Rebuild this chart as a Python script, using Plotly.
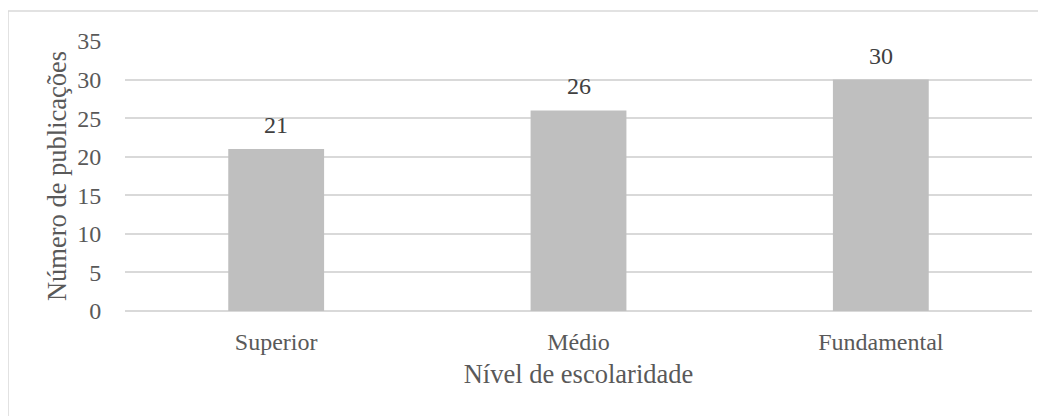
import plotly.graph_objects as go

categories = ["Superior", "Médio", "Fundamental"]
values = [21, 26, 30]
y_ticks = [0, 5, 10, 15, 20, 25, 30, 35]

# page is rendered with an 8px body offset; compensate in margins
OFF = 8
W, H = 1046, 416
L, R, T, B = 125 - OFF, 14 + OFF, 41 - OFF, 105 + OFF
pw, ph = W - L - R, H - T - B

FONT = "Liberation Serif"

fig = go.Figure()
fig.add_trace(go.Bar(
    x=categories, y=values,
    marker=dict(color="#BFBFBF", line=dict(width=0)),
    width=0.317,
    hoverinfo="skip",
))

for c, v in zip(categories, values):
    fig.add_annotation(x=c, y=v, text=str(v), showarrow=False,
                       yanchor="bottom", yshift=9,
                       font=dict(family=FONT, size=24, color="#404040"))

# outer chart border
fig.add_shape(type="rect", xref="paper", yref="paper",
              x0=(8 - OFF - L) / pw, x1=(W + 20 - L) / pw,
              y0=(H - B - (H + 20)) / ph, y1=(H - B - (11 - OFF)) / ph,
              line=dict(color="#D9D9D9", width=1.5), fillcolor="rgba(0,0,0,0)",
              layer="below")

fig.update_layout(
    width=W, height=H,
    margin=dict(l=L, r=R, t=T, b=B),
    paper_bgcolor="white", plot_bgcolor="white",
    showlegend=False,
    font=dict(family=FONT, size=24, color="#595959"),
    xaxis=dict(
        showgrid=False, zeroline=False, showline=False,
        ticks="outside", ticklen=9, tickcolor="rgba(0,0,0,0)",
        tickfont=dict(family=FONT, size=24, color="#595959"),
        title=dict(text="Nível de escolaridade", standoff=10,
                   font=dict(family=FONT, size=26.5, color="#595959")),
    ),
    yaxis=dict(
        range=[0, 35], tickvals=y_ticks,
        showgrid=True, gridcolor="#D9D9D9", gridwidth=1.5,
        zeroline=True, zerolinecolor="#D9D9D9", zerolinewidth=1.5,
        showline=False,
        ticks="outside", ticklen=18, tickcolor="rgba(0,0,0,0)",
        tickfont=dict(family=FONT, size=24, color="#595959"),
        title=dict(text="Número de publicações", standoff=2,
                   font=dict(family=FONT, size=26.5, color="#595959")),
    ),
)

fig.write_html("out.html")
